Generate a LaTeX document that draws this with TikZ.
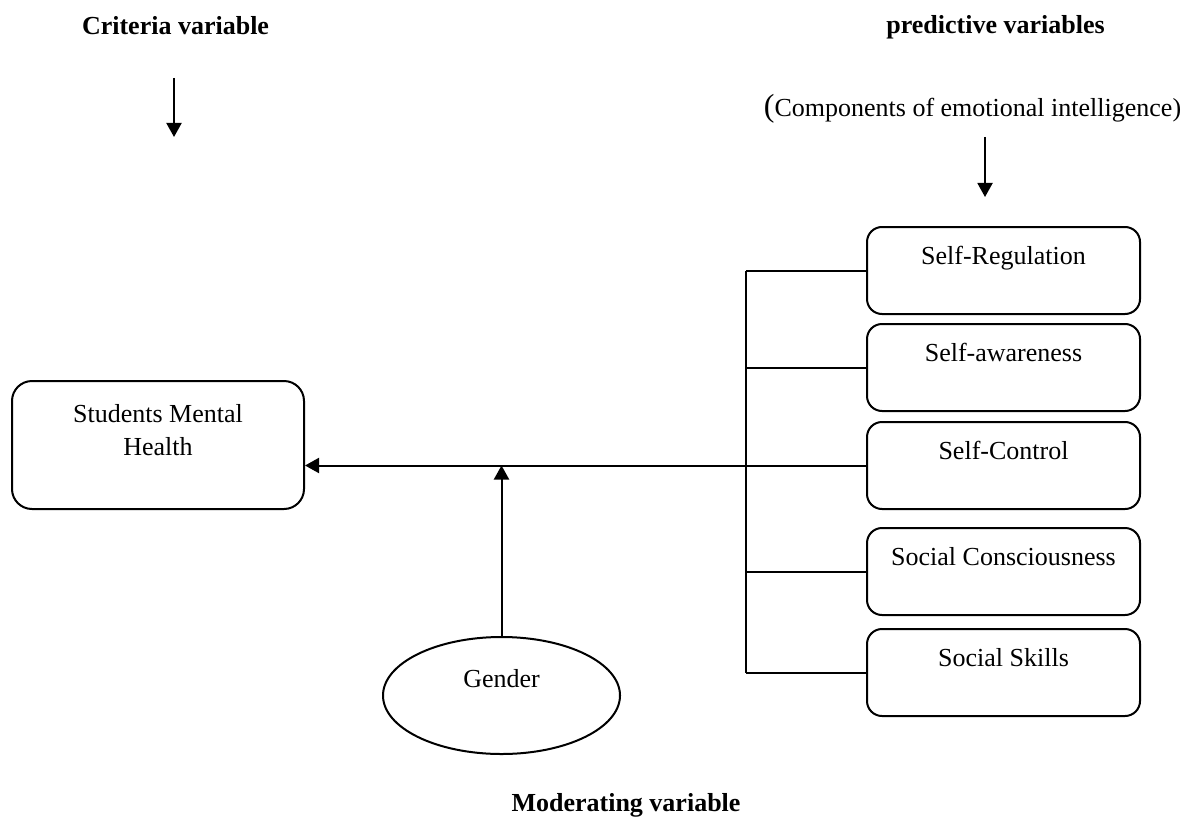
\documentclass[tikz,border=0pt]{standalone}
\usepackage{fontspec}
\setmainfont{Liberation Serif}
\usetikzlibrary{arrows.meta,shapes.geometric,calc}
\begin{document}
\begin{tikzpicture}[x=0.5pt,y=-0.5pt,
  font=\fontsize{13}{16.5}\selectfont,
  line width=1pt,
  box/.style={draw, rounded corners=7.5pt, inner sep=0pt, minimum width=136.5pt,
    minimum height=43.5pt, text height=18.5pt, text depth=25pt},
  arr/.style={-{Triangle[length=7pt,width=7.5pt]}},
  title/.style={font=\fontsize{13}{16.5}\selectfont\bfseries, anchor=base}
]
\useasboundingbox (0,0) rectangle (1186,818);

% titles
\node[title] (crit) at (175.5,35) {Criteria variable};
\node[title] (pred) at (995.5,34) {predictive variables};
\node[anchor=base] (comp) at (972.5,117) {{\fontsize{16}{16}\selectfont(}Components of emotional intelligence)};
\node[title] (mod) at (626,811) {Moderating variable};

% top arrows
\coordinate (c1) at (174,78);
\coordinate (c2) at (174,137);
\draw[arr] (c1) -- (c2);
\coordinate (p1) at (985,137);
\coordinate (p2) at (985,197);
\draw[arr] (p1) -- (p2);

% predictor boxes
\node[box] (b1) at (1003.5,270.5) {Self-Regulation};
\node[box] (b2) at (1003.5,367.5) {Self-awareness};
\node[box] (b3) at (1003.5,465.5) {Self-Control};
\node[box] (b4) at (1003.5,571.5) {Social Consciousness};
\node[box] (b5) at (1003.5,672.5) {Social Skills};

% criterion box
\node[box, rounded corners=10pt, minimum width=146pt, minimum height=64pt,
  text height=20.5pt, text depth=43.5pt] (sm) at (158,445)
  {\begin{tabular}[t]{@{}c@{}}Students Mental\\Health\end{tabular}};

% moderator
\node[draw, ellipse, inner sep=0pt, minimum width=118.5pt, minimum height=58.5pt,
  text height=6pt, text depth=14pt] (g) at (501.5,695.5) {Gender};

% bus
\coordinate (bus) at (746,0);
\draw (b1.west) -- (b1.west -| bus);
\draw (b2.west) -- (b2.west -| bus);
\draw (b4.west) -- (b4.west -| bus);
\draw (b5.west) -- (b5.west -| bus);
\draw (b1.west -| bus) -- (b5.west -| bus);

% main arrows
\draw[arr] (b3.west) -- (b3.west -| sm.east);
\draw[arr] (g.north) -- (g.north |- b3.west);
\end{tikzpicture}
\end{document}
